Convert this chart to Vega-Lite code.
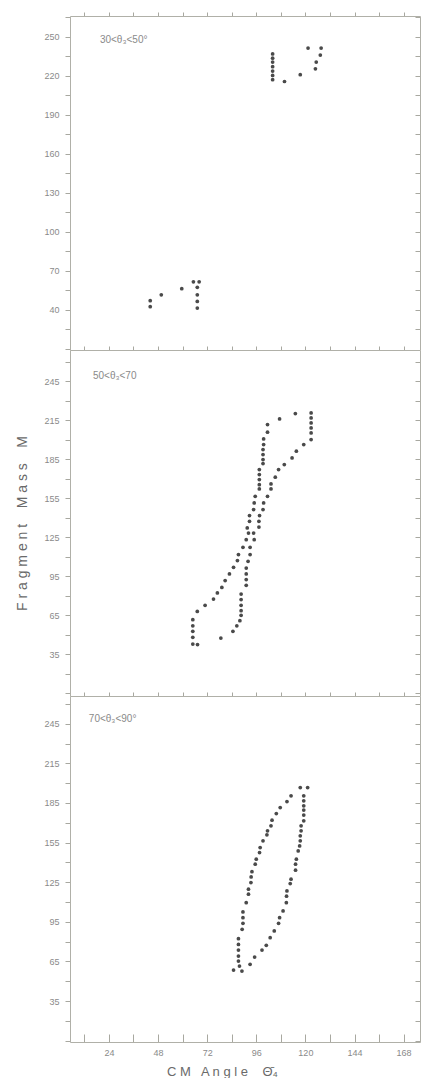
{
  "$schema": "https://vega.github.io/schema/vega-lite/v6.json",
  "padding": {"left": 15, "top": 11, "right": 2, "bottom": 0},
  "background": "white",
  "spacing": 0,
  "bounds": "flush",
  "config": {
    "view": {"stroke": null},
    "axis": {"grid": false, "labelFont": "Liberation Sans", "titleFont": "Liberation Sans", "domainColor": "#b0b0a8", "tickColor": "#a8a8a0", "labelColor": "#8a8a8a", "labelFontSize": 9, "titleFontWeight": "normal"},
    "text": {"font": "Liberation Sans"}
  },
  "datasets": {
    "p1": [
      {"angle": 104.0, "mass": 236.8}, {"angle": 104.0, "mass": 233.5}, {"angle": 104.0, "mass": 230.6}, {"angle": 104.0, "mass": 227.0}, {"angle": 104.0, "mass": 223.6}, {"angle": 104.0, "mass": 220.3}, {"angle": 104.0, "mass": 217.0},
      {"angle": 109.8, "mass": 215.6}, {"angle": 117.5, "mass": 220.8}, {"angle": 124.9, "mass": 225.4}, {"angle": 125.3, "mass": 230.6}, {"angle": 127.3, "mass": 235.9}, {"angle": 121.3, "mass": 241.3}, {"angle": 127.7, "mass": 241.3},
      {"angle": 44.2, "mass": 46.9}, {"angle": 44.2, "mass": 42.3}, {"angle": 49.6, "mass": 51.5}, {"angle": 59.6, "mass": 56.2}, {"angle": 65.3, "mass": 61.5}, {"angle": 68.1, "mass": 61.5}, {"angle": 67.2, "mass": 57.2}, {"angle": 67.2, "mass": 51.5}, {"angle": 67.2, "mass": 46.4}, {"angle": 67.2, "mass": 41.3}
    ],
    "p2": [
      {"angle": 115.1, "mass": 220.1}, {"angle": 122.8, "mass": 220.6}, {"angle": 107.4, "mass": 216.0}, {"angle": 101.5, "mass": 211.7}, {"angle": 101.5, "mass": 205.8}, {"angle": 99.6, "mass": 200.6}, {"angle": 99.6, "mass": 196.3}, {"angle": 99.3, "mass": 192.5}, {"angle": 99.3, "mass": 188.6}, {"angle": 99.3, "mass": 184.8}, {"angle": 99.3, "mass": 181.7},
      {"angle": 97.5, "mass": 177.1}, {"angle": 97.5, "mass": 173.2}, {"angle": 97.5, "mass": 169.4}, {"angle": 97.5, "mass": 165.5}, {"angle": 97.5, "mass": 162.2}, {"angle": 95.5, "mass": 156.5}, {"angle": 95.0, "mass": 151.4}, {"angle": 94.7, "mass": 146.3}, {"angle": 92.7, "mass": 141.7}, {"angle": 92.7, "mass": 137.3}, {"angle": 91.6, "mass": 132.2}, {"angle": 92.2, "mass": 128.3},
      {"angle": 122.8, "mass": 216.8}, {"angle": 122.8, "mass": 212.9}, {"angle": 122.8, "mass": 209.1}, {"angle": 122.8, "mass": 205.2}, {"angle": 122.8, "mass": 200.1}, {"angle": 119.2, "mass": 196.3}, {"angle": 115.6, "mass": 191.2}, {"angle": 113.5, "mass": 186.0}, {"angle": 109.7, "mass": 180.9}, {"angle": 106.9, "mass": 177.1}, {"angle": 105.3, "mass": 171.2}, {"angle": 103.2, "mass": 166.0}, {"angle": 103.2, "mass": 162.2}, {"angle": 101.5, "mass": 156.5}, {"angle": 99.6, "mass": 151.4}, {"angle": 99.3, "mass": 146.3}, {"angle": 97.6, "mass": 141.7}, {"angle": 97.3, "mass": 137.3}, {"angle": 97.3, "mass": 132.9}, {"angle": 94.7, "mass": 128.3},
      {"angle": 91.1, "mass": 123.2}, {"angle": 89.5, "mass": 117.3}, {"angle": 87.3, "mass": 111.7}, {"angle": 86.8, "mass": 107.1}, {"angle": 84.9, "mass": 101.9}, {"angle": 82.9, "mass": 96.8}, {"angle": 80.8, "mass": 91.7}, {"angle": 79.2, "mass": 86.5}, {"angle": 77.0, "mass": 82.2}, {"angle": 75.1, "mass": 77.5}, {"angle": 71.0, "mass": 72.7}, {"angle": 67.2, "mass": 68.0},
      {"angle": 95.0, "mass": 123.2}, {"angle": 93.0, "mass": 117.3}, {"angle": 93.0, "mass": 111.7}, {"angle": 92.0, "mass": 106.5}, {"angle": 91.1, "mass": 101.4}, {"angle": 91.1, "mass": 96.8}, {"angle": 91.1, "mass": 92.5}, {"angle": 91.1, "mass": 88.1}, {"angle": 88.6, "mass": 81.4}, {"angle": 88.6, "mass": 77.1}, {"angle": 88.6, "mass": 72.7}, {"angle": 88.6, "mass": 68.6}, {"angle": 88.6, "mass": 65.0}, {"angle": 88.0, "mass": 60.9}, {"angle": 86.5, "mass": 57.0}, {"angle": 84.6, "mass": 52.7}, {"angle": 78.7, "mass": 47.5},
      {"angle": 65.0, "mass": 61.7}, {"angle": 65.0, "mass": 57.0}, {"angle": 65.0, "mass": 52.7}, {"angle": 65.0, "mass": 48.1}, {"angle": 65.0, "mass": 42.9}, {"angle": 67.3, "mass": 42.5}
    ],
    "p3": [
      {"angle": 117.5, "mass": 196.7}, {"angle": 121.1, "mass": 196.7},
      {"angle": 119.2, "mass": 190.4}, {"angle": 119.2, "mass": 186.6}, {"angle": 119.2, "mass": 182.8}, {"angle": 119.2, "mass": 179.6}, {"angle": 119.2, "mass": 175.8}, {"angle": 119.2, "mass": 171.5}, {"angle": 117.9, "mass": 167.7}, {"angle": 117.9, "mass": 163.9}, {"angle": 117.5, "mass": 160.1}, {"angle": 117.5, "mass": 156.3}, {"angle": 117.2, "mass": 152.5}, {"angle": 116.5, "mass": 148.7}, {"angle": 115.6, "mass": 142.4}, {"angle": 115.2, "mass": 138.6}, {"angle": 115.2, "mass": 134.1}, {"angle": 113.0, "mass": 127.3}, {"angle": 112.6, "mass": 124.0}, {"angle": 111.0, "mass": 118.4}, {"angle": 110.8, "mass": 114.4}, {"angle": 110.7, "mass": 109.5},
      {"angle": 109.1, "mass": 103.2}, {"angle": 107.4, "mass": 98.1}, {"angle": 106.9, "mass": 93.9}, {"angle": 104.8, "mass": 88.1}, {"angle": 102.8, "mass": 83.0}, {"angle": 100.9, "mass": 77.2}, {"angle": 98.8, "mass": 73.6}, {"angle": 95.2, "mass": 68.3}, {"angle": 93.0, "mass": 62.8},
      {"angle": 113.0, "mass": 190.4}, {"angle": 111.0, "mass": 186.1}, {"angle": 107.7, "mass": 181.5}, {"angle": 105.8, "mass": 177.0}, {"angle": 103.7, "mass": 172.0}, {"angle": 103.2, "mass": 167.7}, {"angle": 101.5, "mass": 163.9}, {"angle": 101.2, "mass": 160.9}, {"angle": 99.3, "mass": 156.3}, {"angle": 97.9, "mass": 151.2}, {"angle": 97.6, "mass": 147.4}, {"angle": 96.0, "mass": 142.4}, {"angle": 95.5, "mass": 138.6}, {"angle": 93.9, "mass": 133.0}, {"angle": 93.5, "mass": 129.0}, {"angle": 93.4, "mass": 124.7}, {"angle": 92.2, "mass": 119.7}, {"angle": 92.2, "mass": 115.9}, {"angle": 91.1, "mass": 109.5},
      {"angle": 89.5, "mass": 102.5}, {"angle": 89.5, "mass": 98.1}, {"angle": 89.5, "mass": 93.9}, {"angle": 89.1, "mass": 89.3}, {"angle": 87.3, "mass": 82.2}, {"angle": 87.3, "mass": 77.9}, {"angle": 87.3, "mass": 73.6}, {"angle": 87.3, "mass": 69.1}, {"angle": 87.3, "mass": 65.3}, {"angle": 87.8, "mass": 61.5}, {"angle": 84.9, "mass": 58.5}, {"angle": 89.0, "mass": 57.7}
    ],
    "labels": [
      {"panel": 1, "angle": 19.6, "mass": 247.7, "text": "30<θ₃<50°"},
      {"panel": 2, "angle": 16.2, "mass": 248.8, "text": "50<θ₃<70"},
      {"panel": 3, "angle": 14.2, "mass": 248.8, "text": "70<θ₃<90°"}
    ]
  },
  "vconcat": [
    {
      "width": 350, "height": 334,
      "layer": [
        {
          "data": {"name": "p1"},
          "mark": {"type": "circle", "size": 14, "color": "#4a4a4a", "opacity": 1},
          "encoding": {
            "x": {"field": "angle", "type": "quantitative", "scale": {"domain": [5, 176], "nice": false, "zero": false},
                  "axis": {"orient": "top", "values": [12,24,36,48,60,72,84,96,108,120,132,144,156,168], "labels": false, "tickSize": 4, "title": null}},
            "y": {"field": "mass", "type": "quantitative", "scale": {"domain": [9, 266], "nice": false, "zero": false},
                  "axis": {"orient": "left", "values": [10,25,40,55,70,85,100,115,130,145,160,175,190,205,220,235,250,265], "labelExpr": "datum.value >= 40 && (datum.value - 40) % 30 == 0 ? datum.label : ''", "tickSize": 5, "labelPadding": 6, "title": null}}
          }
        },
        {
          "data": {"name": "labels"},
          "transform": [{"filter": "datum.panel == 1"}],
          "mark": {"type": "text", "align": "left", "baseline": "middle", "fontSize": 10, "color": "#8a8a8a"},
          "encoding": {
            "x": {"field": "angle", "type": "quantitative", "axis": null},
            "y": {"field": "mass", "type": "quantitative",
                  "axis": {"orient": "right", "values": [25,40,55,70,85,100,115,130,145,160,175,190,205,220,235,250,265], "labels": false, "tickSize": -5, "title": null}},
            "text": {"field": "text"}
          }
        }
      ],
      "resolve": {"axis": {"x": "independent", "y": "independent"}}
    },
    {
      "width": 350, "height": 346,
      "layer": [
        {
          "data": {"name": "p2"},
          "mark": {"type": "circle", "size": 14, "color": "#4a4a4a", "opacity": 1},
          "encoding": {
            "x": {"field": "angle", "type": "quantitative", "scale": {"domain": [5, 176], "nice": false, "zero": false},
                  "axis": {"orient": "top", "values": [12,24,36,48,60,72,84,96,108,120,132,144,156,168], "labels": false, "tickSize": 4, "title": null}},
            "y": {"field": "mass", "type": "quantitative", "scale": {"domain": [3, 269], "nice": false, "zero": false},
                  "axis": {"orient": "left", "values": [5,20,35,50,65,80,95,110,125,140,155,170,185,200,215,230,245,260], "labelExpr": "datum.value >= 35 && (datum.value - 35) % 30 == 0 ? datum.label : ''", "tickSize": 5, "labelPadding": 6,
                           "title": "F r a g m e n t \u00a0 \u00a0M a s s \u00a0 \u00a0M", "titleFontSize": 14, "titleColor": "#6a6a6a", "titleX": -48, "titleBaseline": "middle"}}
          }
        },
        {
          "data": {"name": "labels"},
          "transform": [{"filter": "datum.panel == 2"}],
          "mark": {"type": "text", "align": "left", "baseline": "middle", "fontSize": 10, "color": "#8a8a8a"},
          "encoding": {
            "x": {"field": "angle", "type": "quantitative", "axis": null},
            "y": {"field": "mass", "type": "quantitative",
                  "axis": {"orient": "right", "values": [5,20,35,50,65,80,95,110,125,140,155,170,185,200,215,230,245,260], "labels": false, "tickSize": -5, "title": null}},
            "text": {"field": "text"}
          }
        }
      ],
      "resolve": {"axis": {"x": "independent", "y": "independent"}}
    },
    {
      "width": 350, "height": 346,
      "layer": [
        {
          "data": {"name": "p3"},
          "mark": {"type": "circle", "size": 14, "color": "#4a4a4a", "opacity": 1},
          "encoding": {
            "x": {"field": "angle", "type": "quantitative", "scale": {"domain": [5, 176], "nice": false, "zero": false},
                  "axis": {"orient": "top", "values": [12,24,36,48,60,72,84,96,108,120,132,144,156,168], "labels": false, "tickSize": 4, "title": null}},
            "y": {"field": "mass", "type": "quantitative", "scale": {"domain": [4, 266], "nice": false, "zero": false},
                  "axis": {"orient": "left", "values": [5,20,35,50,65,80,95,110,125,140,155,170,185,200,215,230,245,260], "labelExpr": "datum.value >= 35 && (datum.value - 35) % 30 == 0 ? datum.label : ''", "tickSize": 5, "labelPadding": 6, "title": null}}
          }
        },
        {
          "data": {"name": "labels"},
          "transform": [{"filter": "datum.panel == 3"}],
          "mark": {"type": "text", "align": "left", "baseline": "middle", "fontSize": 10, "color": "#8a8a8a"},
          "encoding": {
            "x": {"field": "angle", "type": "quantitative",
                  "axis": {"orient": "bottom", "values": [12,24,36,48,60,72,84,96,108,120,132,144,156,168], "labelExpr": "datum.value % 24 == 0 ? datum.label : ''", "tickSize": -8, "labelPadding": 14,
                           "title": "C M \u00a0 A n g l e \u00a0 \u00a0Θ̄₄", "titleFontSize": 13, "titleColor": "#6a6a6a", "titlePadding": 8, "titleX": 152}},
            "y": {"field": "mass", "type": "quantitative",
                  "axis": {"orient": "right", "values": [5,20,35,50,65,80,95,110,125,140,155,170,185,200,215,230,245,260], "labels": false, "tickSize": -5, "title": null}},
            "text": {"field": "text"}
          }
        }
      ],
      "resolve": {"axis": {"x": "independent", "y": "independent"}}
    }
  ]
}
